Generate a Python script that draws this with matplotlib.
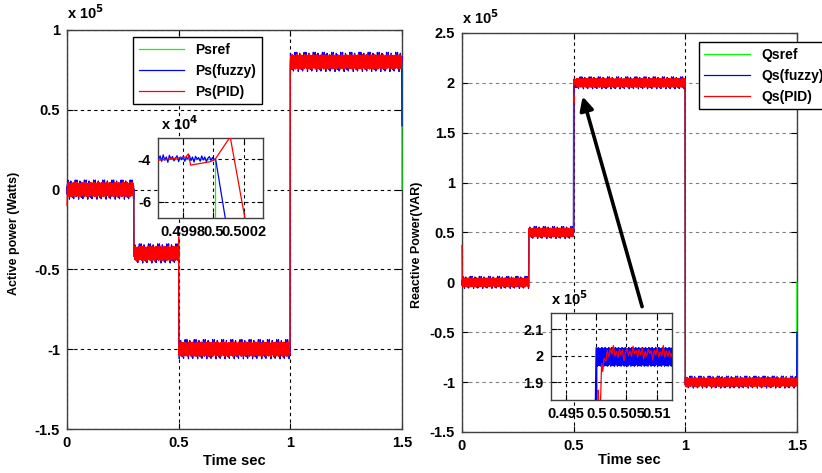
import numpy as np
import matplotlib.pyplot as plt
from matplotlib.ticker import FuncFormatter

plt.rcParams['font.family'] = ['Liberation Sans', 'DejaVu Sans']
plt.rcParams['font.weight'] = 'bold'
plt.rcParams['axes.labelweight'] = 'bold'
plt.rcParams['mathtext.default'] = 'bf'

# step instants (s) and the reference levels between them
STEP_TIMES = [0.0, 0.3, 0.5, 1.0, 1.5]
PS_REF = [0.0, -0.4e5, -1.0e5, 0.8e5]        # W
QS_REF = [0.0, 0.5e5, 2.0e5, -1.0e5]         # VAR
PS_REF_END, PS_FUZZY_END = 0.0, 0.4e5
QS_REF_END, QS_FUZZY_END = 0.0, -0.5e5
PS_PID_START = -0.1e5
QS_PID_START = 0.37e5

# ripple half-widths of the two controllers
PID_BAND = 0.045e5
FUZZY_BAND = 0.06e5

# normalised ripple shapes
RIPPLE_PID = [0.9, -0.7, 0.5, -1.0, 0.8, -0.4, 0.95, -0.85, 0.3, -0.6, 1.0, -0.9,
              0.6, -0.5, 0.85, -0.95, 0.4, -0.75, 0.7, -0.3, 0.9, -0.8, 0.55, -1.0,
              0.75, -0.45, 0.65, -0.9, 1.0, -0.65, 0.35, -0.7, 0.8, -0.55, 0.95, -0.85, 0.5]
RIPPLE_FUZZY = [0.3, -0.5, 0.6, -0.2, 1.0, -0.4, 0.2, -0.6, 0.5, -0.3, 0.4, -1.0, 0.1,
                0.55, -0.35, 0.25, -0.45, 0.9, -0.15, 0.35, -0.55, 0.45, -0.25, 0.6,
                -0.8, 0.2, -0.4, 0.5, -0.1, 0.3, -0.95, 0.4, -0.3, 0.65, -0.5, 0.15,
                -0.35, 1.0, -0.6, 0.25, -0.45]

# close-up of the active power step at t = 0.5 s (W)
PZ_REF_T = [0.49964, 0.500009, 0.500009]
PZ_REF = [-4.0e4, -4.0e4, -1.0e5]
PZ_FUZZY = [-4.0, -3.85, -4.1, -3.8, -4.05, -3.9, -4.15, -3.82, -4.0, -3.88, -4.08, -3.95,
            -3.84, -4.12, -3.9, -4.02, -3.86, -4.1, -3.92, -3.98, -3.83, -4.07, -3.9, -4.14,
            -3.87, -4.0, -3.93, -4.1, -3.85, -4.04, -3.9, -4.12, -3.96, -3.88, -4.06, -3.92,
            -4.02, -3.98]
PZ_FUZZY_T0, PZ_FUZZY_T1 = 0.49964, 0.500014
PZ_FUZZY_DROP = (0.500081, -6.9e4)
PZ_PID_T = [0.49964, 0.49974, 0.49982, 0.499835, 0.49985, 0.49998, 0.50001, 0.50011, 0.50021]
PZ_PID = [-4.05e4, -3.97e4, -3.9e4, -3.75e4, -4.28e4, -4.12e4, -4.02e4, -2.96e4, -6.9e4]

# close-up of the reactive power step at t = 0.5 s (VAR)
QZ_REF_T = [0.49995, 0.49995]
QZ_REF = [0.5e5, 2.0e5]
QZ_FUZZY_START = (0.5001, 0.5e5)
QZ_FUZZY_LEVEL, QZ_FUZZY_BAND = 1.995e5, 0.035e5
QZ_PID_T = [0.5, 0.50033, 0.5005, 0.5007, 0.5009, 0.5011, 0.5013, 0.5016]
QZ_PID = [0.5e5, 1.87e5, 1.80e5, 1.80e5, 1.97e5, 1.94e5, 1.99e5, 1.98e5]
QZ_PID_LEVEL, QZ_PID_BAND = 2.01e5, 0.028e5
QZ_END = 0.5126

DT = 0.001
t = np.arange(0.0, 1.5, DT)


def levels(values):
    idx = np.searchsorted(STEP_TIMES[1:-1], t, side='right')
    return np.array(values)[idx]


def with_ripple(base, ripple, band):
    return base + band * np.resize(np.array(ripple), base.size)


def merge(tm, ym, td, yd):
    td = np.asarray(td, dtype=float)
    yd = np.asarray(yd, dtype=float)
    keep = (tm < td[0]) | (tm > td[-1])
    tt = np.concatenate([tm[keep], td])
    yy = np.concatenate([ym[keep], yd])
    order = np.argsort(tt, kind='stable')
    return tt[order], yy[order]


# active power
p_ref = np.append(levels(PS_REF), PS_REF_END)
t_ref = np.append(t, 1.5)
p_fuzzy = np.append(with_ripple(levels(PS_REF), RIPPLE_FUZZY, FUZZY_BAND), PS_FUZZY_END)
p_pid = with_ripple(levels(PS_REF), RIPPLE_PID, PID_BAND)
p_pid[0] = PS_PID_START

pt_ref, p_ref = merge(t_ref, p_ref, PZ_REF_T, PZ_REF)
tz = np.append(np.linspace(PZ_FUZZY_T0, PZ_FUZZY_T1, len(PZ_FUZZY)), PZ_FUZZY_DROP[0])
yz = np.append(np.array(PZ_FUZZY) * 1e4, PZ_FUZZY_DROP[1])
pt_fuzzy, p_fuzzy = merge(t_ref, p_fuzzy, tz, yz)
pt_pid, p_pid = merge(t, p_pid, PZ_PID_T, PZ_PID)

# reactive power
q_ref = np.append(levels(QS_REF), QS_REF_END)
q_fuzzy = np.append(with_ripple(levels(QS_REF), RIPPLE_FUZZY, FUZZY_BAND), QS_FUZZY_END)
q_pid = with_ripple(levels(QS_REF), RIPPLE_PID, PID_BAND)
q_pid[0] = QS_PID_START

qt_ref, q_ref = merge(t_ref, q_ref, QZ_REF_T, QZ_REF)
tz = np.arange(QZ_FUZZY_START[0], QZ_END, 0.00003)
yz = with_ripple(np.full(tz.size, QZ_FUZZY_LEVEL), RIPPLE_PID, QZ_FUZZY_BAND)
tz = np.insert(tz, 0, QZ_FUZZY_START[0])
yz = np.insert(yz, 0, QZ_FUZZY_START[1])
qt_fuzzy, q_fuzzy = merge(t_ref, q_fuzzy, tz, yz)
tz = np.arange(QZ_PID_T[-1] + 0.00025, QZ_END, 0.00025)
yz = with_ripple(np.full(tz.size, QZ_PID_LEVEL), RIPPLE_FUZZY, QZ_PID_BAND)
qt_pid, q_pid = merge(t, q_pid, np.concatenate([QZ_PID_T, tz]),
                      np.concatenate([QZ_PID, yz]))

GREEN, BLUE, RED = '#00ff00', '#0000ff', '#ff0000'
fmt = FuncFormatter(lambda v, p: '%g' % round(v, 6))


def style(ax, hgrid='k'):
    ax.tick_params(direction='in', length=4, width=0.8, top=True, right=True,
                   labelsize=10.5, pad=5)
    for s in ax.spines.values():
        s.set_color('#404040')
        s.set_linewidth(1.0)
    ax.xaxis.grid(True, color='k', linestyle=(0, (3, 3)), linewidth=0.8)
    ax.yaxis.grid(True, color=hgrid, linestyle=(0, (3, 3)), linewidth=0.8)
    ax.set_axisbelow(True)
    ax.xaxis.set_major_formatter(fmt)
    ax.yaxis.set_major_formatter(fmt)


def draw(ax, series, scale, clip=True):
    for (tt, yy), c in zip(series, [GREEN, BLUE, RED]):
        ax.plot(tt, yy / scale, color=c, linewidth=0.9, zorder=3, clip_on=clip)


fig = plt.figure(figsize=(8.22, 4.73), dpi=100)

# ---- active power ----
ax1 = fig.add_axes([0.0815, 0.093, 0.4075, 0.8436])
p_series = [(pt_ref, p_ref), (pt_fuzzy, p_fuzzy), (pt_pid, p_pid)]
draw(ax1, p_series, 1e5, clip=False)
ax1.set_xlim(0, 1.5)
ax1.set_ylim(-1.5, 1)
ax1.set_xticks([0, 0.5, 1, 1.5])
ax1.set_yticks([-1.5, -1, -0.5, 0, 0.5, 1])
style(ax1)
ax1.set_xlabel('Time sec', fontsize=10.5, labelpad=3)
ax1.set_ylabel('Active power (Watts)', fontsize=9)
ax1.yaxis.set_label_coords(-0.14, 0.49)
ax1.text(0.0, 1.02, r'x 10$^{5}$', transform=ax1.transAxes, fontsize=10.5, va='bottom')
leg = ax1.legend(['Psref', 'Ps(fuzzy)', 'Ps(PID)'], loc='upper left',
                 bbox_to_anchor=(0.197, 0.982), borderaxespad=0, fontsize=10,
                 handlelength=3.3, fancybox=False, framealpha=1, edgecolor='k')
leg.get_frame().set_linewidth(1.0)
leg.set_zorder(5)

ins1 = fig.add_axes([0.1922, 0.539, 0.1277, 0.169])
draw(ins1, p_series, 1e4)
ins1.set_xlim(0.499636, 0.500325)
ins1.set_ylim(-6.75, -3.02)
ins1.set_xticks([0.4998, 0.5, 0.5002])
ins1.set_yticks([-6, -4])
style(ins1)
ins1.text(0.03, 1.06, r'x 10$^{4}$', transform=ins1.transAxes, fontsize=10.5, va='bottom')

# ---- reactive power ----
ax2 = fig.add_axes([0.562, 0.0867, 0.4075, 0.8436])
q_series = [(qt_ref, q_ref), (qt_fuzzy, q_fuzzy), (qt_pid, q_pid)]
draw(ax2, q_series, 1e5, clip=False)
ax2.set_xlim(0, 1.5)
ax2.set_ylim(-1.5, 2.5)
ax2.set_xticks([0, 0.5, 1, 1.5])
ax2.set_yticks(np.arange(-1.5, 2.51, 0.5))
style(ax2, hgrid='#808080')
ax2.set_xlabel('Time sec', fontsize=10.5, labelpad=0)
ax2.set_ylabel('Reactive Power(VAR)', fontsize=9)
ax2.yaxis.set_label_coords(-0.116, 0.47)
ax2.text(0.0, 1.015, r'x 10$^{5}$', transform=ax2.transAxes, fontsize=10.5, va='bottom')
leg = ax2.legend(['Qsref', 'Qs(fuzzy)', 'Qs(PID)'], loc='upper left',
                 bbox_to_anchor=(0.707, 0.977), borderaxespad=0, fontsize=10,
                 handlelength=3.3, fancybox=False, framealpha=1, edgecolor='k')
leg.get_frame().set_linewidth(1.0)
leg.set_zorder(5)
ax2.annotate('', xy=(0.537, 1.89), xytext=(0.81, -0.27),
             arrowprops=dict(arrowstyle='-|>', color='k', lw=2.6, mutation_scale=20))

ins2 = fig.add_axes([0.670, 0.154, 0.148, 0.184])
draw(ins2, q_series, 1e5)
ins2.set_xlim(0.4925, 0.5126)
ins2.set_ylim(1.832, 2.16)
ins2.set_xticks([0.495, 0.5, 0.505, 0.51])
ins2.set_yticks([1.9, 2, 2.1])
style(ins2)
ins2.text(0.0, 1.06, r'x 10$^{5}$', transform=ins2.transAxes, fontsize=10.5, va='bottom')

fig.savefig('out.png', dpi=100)
